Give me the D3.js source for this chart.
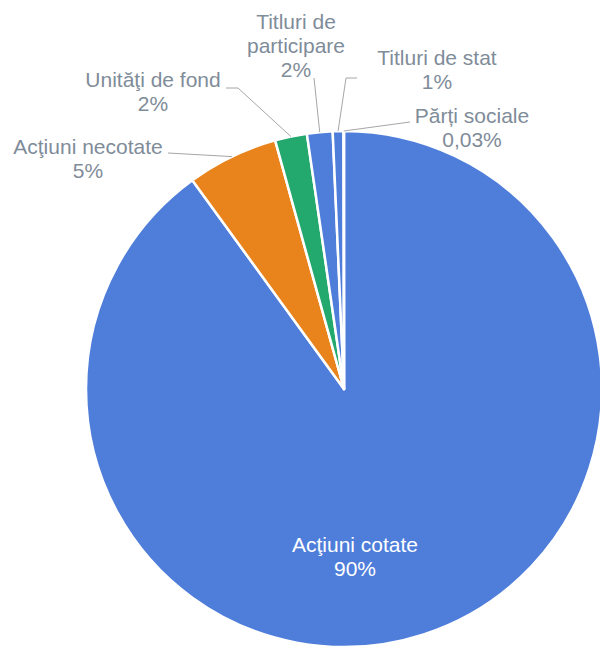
<!DOCTYPE html>
<html lang="ro">
  <head>
    <title>Structura portofoliului</title>
    <meta charset="utf-8">
    <script src="https://d3js.org/d3.v7.min.js"></script>
    <style>
      body { margin: 0; background: #fff; }
      svg { display: block; }
    </style>
  </head>
  <body>
    <div id="visualizacao"></div>
    <script type="text/javascript">

      // dados
      const categorias = ['Acţiuni cotate', 'Acţiuni necotate', 'Unităţi de fond',
                          'Titluri de participare', 'Titluri de stat', 'Părți sociale']
      const valores = [90.0, 5.7, 2.0, 1.6, 0.67, 0.03]
      const rotulosPct = ['90%', '5%', '2%', '2%', '1%', '0,03%']
      const linhasNome = [['Acţiuni cotate'], ['Acţiuni necotate'], ['Unităţi de fond'],
                          ['Titluri de', 'participare'], ['Titluri de stat'], ['Părți sociale']]

      const largura = 600,
            altura = 646,
            centro = { x: 344, y: 389 },
            raio = 258

      const cores = ['#4e7dda', '#e9831b', '#23a86d', '#4e7dda', '#4e7dda', '#4e7dda']

      // posição dos rótulos (centro do texto, linha de base) e início da linha guia
      const posRotulos = [
        { x: 355, y: 552, guia: null, dentro: true },
        { x: 88,  y: 154, guia: [[168, 153]] },
        { x: 153, y: 87,  guia: [[226, 88], [238, 88]] },
        { x: 296, y: 29,  guia: [[314, 78]] },
        { x: 437, y: 65,  guia: [[357, 78], [346, 78]] },
        { x: 472, y: 123, guia: [[410, 122]] }
      ]

      const dados = categorias.map((c, i) => ({
        nome: c, valor: valores[i], pct: rotulosPct[i], linhas: linhasNome[i], i: i
      }))

      const tela = d3.select('#visualizacao')
        .append('svg')
          .attr('width', largura)
          .attr('height', altura)

      const grafico = tela.append('g')
        .attr('transform', `translate(${centro.x}, ${centro.y})`)

      const pizza = d3.pie()
        .sort(null)
        .value(d => d.valor)

      const arco = d3.arc()
        .innerRadius(0)
        .outerRadius(raio)

      const fatias = pizza(dados)

      grafico.selectAll('path')
        .data(fatias)
        .join('path')
          .attr('d', arco)
          .attr('fill', d => cores[d.data.i])
          .attr('stroke', '#fff')
          .attr('stroke-width', 2.5)
          .attr('stroke-linejoin', 'round')

      // linhas guia
      const linha = d3.line()
      fatias.forEach(f => {
        const p = posRotulos[f.data.i]
        if (!p.guia) return
        const meio = (f.startAngle + f.endAngle) / 2
        const fim = [centro.x + raio * Math.sin(meio), centro.y - raio * Math.cos(meio)]
        tela.append('path')
          .attr('d', linha(p.guia.concat([fim])))
          .attr('fill', 'none')
          .attr('stroke', '#a6a6a6')
          .attr('stroke-width', 1)
      })

      // rótulos
      const rotulos = tela.selectAll('text.rotulo')
        .data(dados)
        .join('text')
          .attr('class', 'rotulo')
          .attr('text-anchor', 'middle')
          .attr('font-family', '"Liberation Sans", Arial, sans-serif')
          .attr('font-size', 21)
          .attr('fill', d => posRotulos[d.i].dentro ? '#ffffff' : '#7f8c99')

      rotulos.selectAll('tspan')
        .data(d => d.linhas.concat([d.pct]).map((t, k) => ({ t, k, p: posRotulos[d.i] })))
        .join('tspan')
          .attr('x', d => d.p.x)
          .attr('y', d => d.p.y + d.k * 24)
          .text(d => d.t)

    </script>
  </body>
</html>
